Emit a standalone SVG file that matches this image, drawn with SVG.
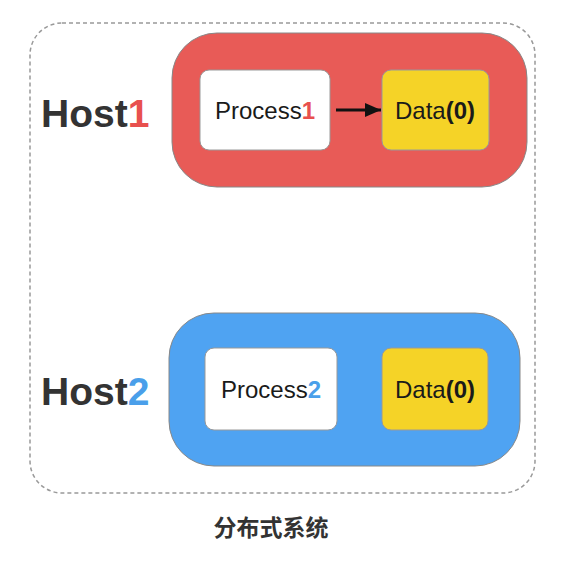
<svg xmlns="http://www.w3.org/2000/svg" width="566" height="562" viewBox="0 0 566 562">
<defs>
<style>
.host{fill:#333;font-family:"Liberation Sans",Arial,sans-serif;font-weight:bold;font-size:39px}
.lbl{fill:#1a1a1a;font-family:"Liberation Sans",Arial,sans-serif;font-size:24px;text-anchor:middle}
.inner{stroke:#999;stroke-width:1}
.proc{fill:#fff}
.data{fill:#F5D327}
</style>
<marker id="ah" markerWidth="16" markerHeight="14" refX="16" refY="7" orient="auto" markerUnits="userSpaceOnUse">
<path d="M0,0 L16,7 L0,14 z" fill="#111"/>
</marker>
</defs>
<rect width="566" height="562" fill="#fff"/>
<rect id="system" x="30" y="23" width="505" height="470" rx="32" fill="none" stroke="#999" stroke-width="1.5" stroke-dasharray="4,3"/>
<g id="host1">
<rect x="172" y="33" width="355" height="154" rx="45" fill="#E85B57" stroke="#888" stroke-width="1"/>
<text class="host" x="41" y="127">Host<tspan fill="#E8504E">1</tspan></text>
</g>
<g id="process1">
<rect class="proc inner" x="200" y="70" width="130" height="80" rx="9"/>
<text class="lbl" x="265" y="119">Process<tspan fill="#E8504E" font-weight="bold">1</tspan></text>
</g>
<g id="data1">
<rect class="data inner" x="382" y="70" width="107" height="80" rx="9"/>
<text class="lbl" x="435" y="119">Data<tspan font-weight="bold">(0)</tspan></text>
</g>
<g id="host2">
<rect x="169" y="313" width="351" height="153" rx="45" fill="#4FA3F2" stroke="#888" stroke-width="1"/>
<text class="host" x="41" y="405">Host<tspan fill="#4A9FEA">2</tspan></text>
</g>
<g id="process2">
<rect class="proc inner" x="205" y="348" width="132" height="82" rx="9"/>
<text class="lbl" x="271" y="398">Process<tspan fill="#4A9FEA" font-weight="bold">2</tspan></text>
</g>
<g id="data2">
<rect class="data inner" x="382" y="348" width="106" height="82" rx="9"/>
<text class="lbl" x="435" y="398">Data<tspan font-weight="bold">(0)</tspan></text>
</g>
<g id="connectors">
<line x1="336" y1="110" x2="381" y2="110" stroke="#111" stroke-width="3" marker-end="url(#ah)"/>
</g>
<text x="271" y="536" font-family="'Noto Sans CJK SC',sans-serif" font-weight="bold" font-size="23" fill="#333" text-anchor="middle">分布式系统</text>
</svg>
